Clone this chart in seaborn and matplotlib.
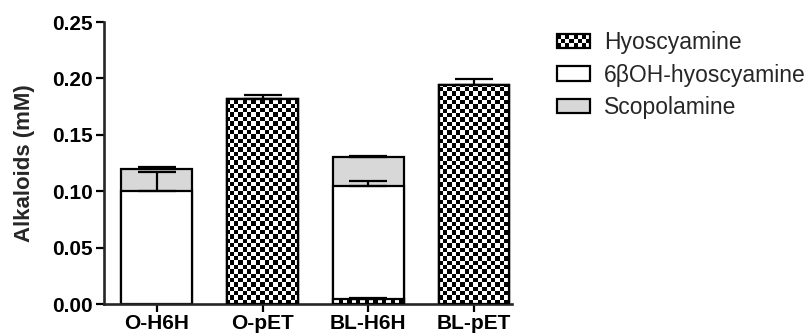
import numpy as np
import pandas as pd
import matplotlib
matplotlib.use("Agg")
import matplotlib.pyplot as plt
import seaborn as sns
from matplotlib.patches import Rectangle
from matplotlib.legend_handler import HandlerBase

# ---- data ----
categories = ["O-H6H", "O-pET", "BL-H6H", "BL-pET"]
hyoscyamine = [0.0, 0.182, 0.004, 0.194]
hyoscyamine_err = [0.0, 0.003, 0.001, 0.0055]
oh_hyoscyamine = [0.100, 0.0, 0.1006, 0.0]
oh_hyoscyamine_err = [0.017, 0.0, 0.0045, 0.0]
scopolamine = [0.020, 0.0, 0.0254, 0.0]
scopolamine_err = [0.0015, 0.0, 0.0013, 0.0]
series_names = ["Hyoscyamine", "6\u03b2OH-hyoscyamine", "Scopolamine"]

sns.set_style("ticks")
plt.rcParams["font.family"] = ["Liberation Sans", "DejaVu Sans"]

fig = plt.figure(figsize=(8.11, 3.35), dpi=100)
ax = fig.add_axes([104 / 811, 1 - 304 / 335, (512 - 104) / 811, (304 - 22) / 335])

hy = np.array(hyoscyamine)
oh = np.array(oh_hyoscyamine)
sc = np.array(scopolamine)
cum_oh = hy + oh
cum_sc = hy + oh + sc

gray = "#d8d8d8"
BW = 0.67
LW = 1.6

df = pd.DataFrame({"cat": categories, "val": cum_sc})
sns.barplot(data=df, x="cat", y="val", color=gray, saturation=1, width=BW,
            edgecolor="black", linewidth=LW, errorbar=None, ax=ax, zorder=1)
df = pd.DataFrame({"cat": categories, "val": cum_oh})
sns.barplot(data=df, x="cat", y="val", color="white", saturation=1, width=BW,
            edgecolor="black", linewidth=LW, errorbar=None, ax=ax, zorder=2)
n2 = len(ax.patches)
df = pd.DataFrame({"cat": categories, "val": hy})
sns.barplot(data=df, x="cat", y="val", color="white", saturation=1, width=BW,
            edgecolor="black", linewidth=LW, errorbar=None, ax=ax, zorder=4)
hy_patches = ax.patches[n2:]

xmin, xmax = -0.5, 3.36
ymin, ymax = 0.0, 0.25
ax.set_xlim(xmin, xmax)
ax.set_ylim(ymin, ymax)

# checkerboard fill for hyoscyamine bars
nx, ny = 94, 65
checker = (np.add.outer(np.arange(ny), np.arange(nx)) % 2).astype(float)
for p, v in zip(hy_patches, hyoscyamine):
    if v <= 0:
        p.set_visible(False)
        continue
    p.set_facecolor("none")
    im = ax.imshow(checker, cmap="gray", extent=[xmin, xmax, ymin, ymax],
                   aspect="auto", interpolation="nearest", origin="lower",
                   zorder=3, vmin=0, vmax=1)
    im.set_clip_path(p)
ax.set_xlim(xmin, xmax)
ax.set_ylim(ymin, ymax)

# error bars (upper only)
xpos = np.arange(len(categories))
for tops, errs in [(hy, hyoscyamine_err), (cum_oh, oh_hyoscyamine_err), (cum_sc, scopolamine_err)]:
    idx = [i for i, e in enumerate(errs) if e > 0]
    if not idx:
        continue
    ax.errorbar(xpos[idx], tops[idx], yerr=[np.zeros(len(idx)), np.array(errs)[idx]],
                fmt="none", ecolor="black", elinewidth=LW, capsize=13.5, capthick=LW, zorder=5)

# axes styling
sns.despine(ax=ax)
for s in ["left", "bottom"]:
    ax.spines[s].set_linewidth(1.9)
ax.set_yticks([0, 0.05, 0.10, 0.15, 0.20, 0.25])
ax.set_yticklabels(["0.00", "0.05", "0.10", "0.15", "0.20", "0.25"])
ax.tick_params(axis="both", length=6, width=1.6, direction="out", pad=2,
               labelsize=15, color="black", labelcolor="black")
ax.tick_params(axis="x", pad=1)
for lab in ax.get_xticklabels() + ax.get_yticklabels():
    lab.set_fontweight("bold")
ax.set_xlabel("")
ax.set_ylabel("Alkaloids (mM)", fontsize=16, fontweight="bold", labelpad=12)


class CheckerHandler(HandlerBase):
    def create_artists(self, legend, orig_handle, xdescent, ydescent, width, height, fontsize, trans):
        arts = [Rectangle((-xdescent, -ydescent), width, height, facecolor="white",
                          edgecolor="none", transform=trans)]
        n_x, n_y = 8, 3
        w, h = width / n_x, height / n_y
        for i in range(n_x):
            for j in range(n_y):
                if (i + j) % 2 == 0:
                    arts.append(Rectangle((-xdescent + i * w, -ydescent + j * h), w, h,
                                          facecolor="black", edgecolor="none", transform=trans))
        arts.append(Rectangle((-xdescent, -ydescent), width, height, facecolor="none",
                              edgecolor="black", lw=LW, transform=trans))
        return arts


h_hy = Rectangle((0, 0), 1, 1, facecolor="white", edgecolor="black")
h_oh = Rectangle((0, 0), 1, 1, facecolor="white", edgecolor="black", lw=LW)
h_sc = Rectangle((0, 0), 1, 1, facecolor=gray, edgecolor="black", lw=LW)
leg = fig.legend([h_hy, h_oh, h_sc], series_names, loc="upper left",
                 bbox_to_anchor=(557 / 811, 1 - 31 / 335), frameon=False,
                 fontsize=16.5, handlelength=1.45, handleheight=0.57, handletextpad=0.6,
                 labelspacing=0.42, borderpad=0, borderaxespad=0,
                 handler_map={h_hy: CheckerHandler()})

fig.savefig("out.png", dpi=100)
